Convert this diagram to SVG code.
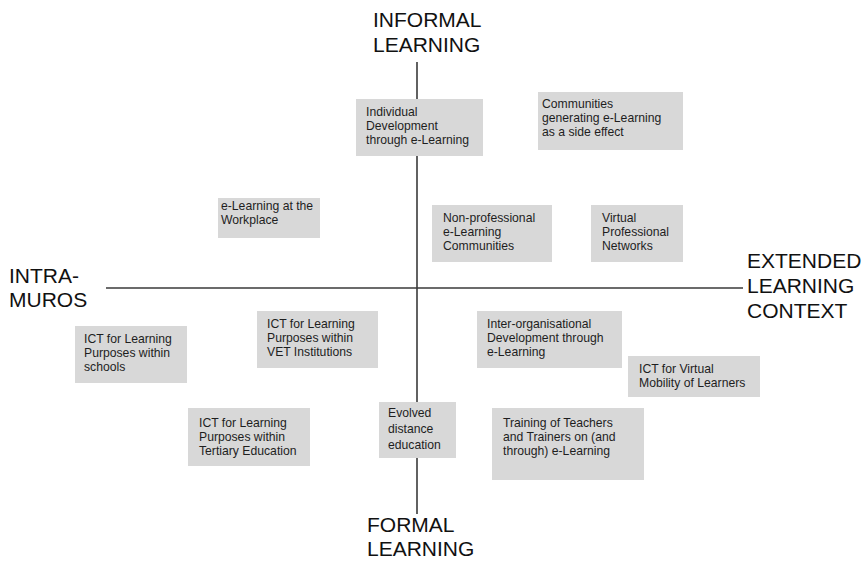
<svg xmlns="http://www.w3.org/2000/svg" width="865" height="562" viewBox="0 0 865 562">
<style>
.ax{stroke:#3a3a3a;stroke-width:1.6;fill:none}
.bx{fill:#d8d8d8}
.t{font-family:"Liberation Sans",Arial,sans-serif;font-size:12.2px;fill:#1e1e1e}
.big{font-family:"Liberation Sans",Arial,sans-serif;font-size:21px;fill:#111}
</style>
<rect width="865" height="562" fill="#fff"/>
<g id="connectors">
<line class="ax" x1="417" y1="62" x2="417" y2="514"/>
<line class="ax" x1="106" y1="288" x2="743" y2="288"/>
</g>
<g id="informal"><text class="big" x="373" y="27">INFORMAL</text><text class="big" x="373" y="52">LEARNING</text></g>
<g id="formal"><text class="big" x="367" y="532">FORMAL</text><text class="big" x="367" y="556">LEARNING</text></g>
<g id="intramuros"><text class="big" x="9" y="283">INTRA-</text><text class="big" x="9" y="307">MUROS</text></g>
<g id="extended"><text class="big" x="747" y="268">EXTENDED</text><text class="big" x="747" y="293">LEARNING</text><text class="big" x="747" y="318">CONTEXT</text></g>
<g id="n1"><rect class="bx" x="356" y="99" width="127" height="57"/><text class="t" x="366" y="116">Individual</text><text class="t" x="366" y="130">Development</text><text class="t" x="366" y="144">through e-Learning</text></g>
<g id="n2"><rect class="bx" x="538" y="92" width="145" height="58"/><text class="t" x="542" y="108">Communities</text><text class="t" x="542" y="122">generating e-Learning</text><text class="t" x="542" y="136">as a side effect</text></g>
<g id="n3"><rect class="bx" x="218" y="198" width="102" height="40"/><text class="t" x="221" y="210">e-Learning at the</text><text class="t" x="221" y="224">Workplace</text></g>
<g id="n4"><rect class="bx" x="432" y="205" width="120" height="57"/><text class="t" x="443" y="222">Non-professional</text><text class="t" x="443" y="236">e-Learning</text><text class="t" x="443" y="250">Communities</text></g>
<g id="n5"><rect class="bx" x="591" y="205" width="92" height="57"/><text class="t" x="602" y="222">Virtual</text><text class="t" x="602" y="236">Professional</text><text class="t" x="602" y="250">Networks</text></g>
<g id="n6"><rect class="bx" x="75" y="326" width="112" height="57"/><text class="t" x="84" y="343">ICT for Learning</text><text class="t" x="84" y="357">Purposes within</text><text class="t" x="84" y="371">schools</text></g>
<g id="n7"><rect class="bx" x="257" y="311" width="121" height="57"/><text class="t" x="267" y="328">ICT for Learning</text><text class="t" x="267" y="342">Purposes within</text><text class="t" x="267" y="356">VET Institutions</text></g>
<g id="n8"><rect class="bx" x="477" y="311" width="145" height="57"/><text class="t" x="487" y="328">Inter-organisational</text><text class="t" x="487" y="342">Development through</text><text class="t" x="487" y="356">e-Learning</text></g>
<g id="n9"><rect class="bx" x="628" y="356" width="132" height="41"/><text class="t" x="639" y="373">ICT for Virtual</text><text class="t" x="639" y="387">Mobility of Learners</text></g>
<g id="n10"><rect class="bx" x="188" y="408" width="122" height="58"/><text class="t" x="199" y="427">ICT for Learning</text><text class="t" x="199" y="441">Purposes within</text><text class="t" x="199" y="455">Tertiary Education</text></g>
<g id="n11"><rect class="bx" x="379" y="402" width="77" height="56"/><text class="t" x="388" y="417">Evolved</text><text class="t" x="388" y="433">distance</text><text class="t" x="388" y="449">education</text></g>
<g id="n12"><rect class="bx" x="492" y="408" width="152" height="72"/><text class="t" x="503" y="427">Training of Teachers</text><text class="t" x="503" y="441">and Trainers on (and</text><text class="t" x="503" y="455">through) e-Learning</text></g>
</svg>
